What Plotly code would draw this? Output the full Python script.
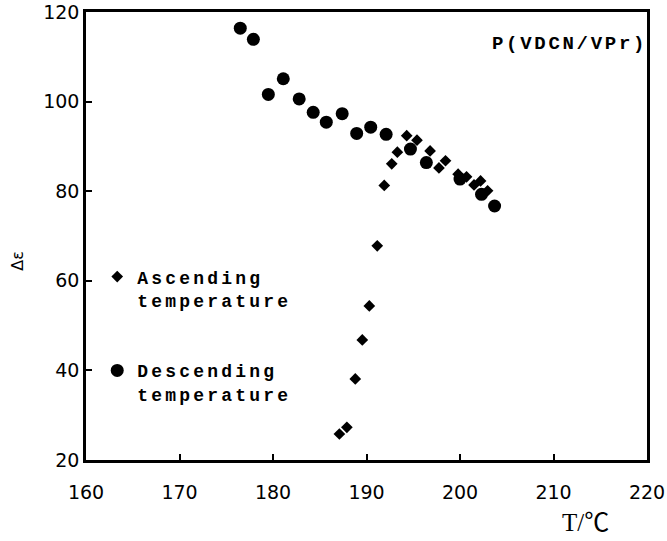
import plotly.graph_objects as go

# Ascending temperature (diamonds)
asc_T = [187.1, 187.9, 188.8, 189.55, 190.3, 191.15, 191.9, 192.7, 193.3, 194.3,
         195.4, 196.8, 197.75, 198.45, 199.8, 200.7, 201.5, 202.2, 202.95]
asc_de = [25.8, 27.3, 38.1, 46.8, 54.4, 67.8, 81.3, 86.1, 88.7, 92.4,
          91.4, 89.0, 85.2, 86.8, 83.8, 83.2, 81.4, 82.3, 80.1]

# Descending temperature (circles)
desc_T = [176.5, 177.9, 179.5, 181.1, 182.8, 184.3, 185.7, 187.4, 188.95, 190.45,
          192.1, 194.7, 196.4, 200.0, 202.3, 203.7]
desc_de = [116.4, 113.9, 101.6, 105.1, 100.6, 97.6, 95.4, 97.3, 92.9, 94.3,
           92.7, 89.4, 86.4, 82.7, 79.3, 76.7]

x_ticks = [160, 170, 180, 190, 200, 210, 220]
y_ticks = [20, 40, 60, 80, 100, 120]

MONO = "Liberation Mono"


def spaced(t, ls=2.5):
    return '<b><span style="letter-spacing:%spx">' % ls + t + "</span></b>"


fig = go.Figure()
fig.add_trace(go.Scatter(
    x=asc_T, y=asc_de, mode="markers",
    name=spaced("Ascending", 3.2) + "<br>" + spaced("temperature", 3.2),
    legendgroup="a",
    marker=dict(symbol="diamond", size=9, color="black"),
))
fig.add_trace(go.Scatter(
    x=desc_T, y=desc_de, mode="markers",
    name=spaced("Descending", 3.2) + "<br>" + spaced("temperature", 3.2),
    legendgroup="d",
    marker=dict(symbol="circle", size=13, color="black"),
))

axis_common = dict(
    showgrid=False, zeroline=False, showline=True, mirror=True,
    linecolor="black", linewidth=2.5, ticks="inside", ticklen=6,
    tickwidth=1.5, tickcolor="black", automargin=False,
    tickfont=dict(family="DejaVu Sans", size=19, color="black"),
)
fig.update_xaxes(range=[160, 220], tickvals=x_ticks, ticklabelstandoff=13, **axis_common)
fig.update_yaxes(range=[20, 120], tickvals=y_ticks, **axis_common)

fig.update_layout(
    width=667, height=541,
    margin=dict(l=86, r=20, t=12, b=81, autoexpand=False),
    plot_bgcolor="white", paper_bgcolor="white",
    showlegend=True,
    legend=dict(
        x=0.02, y=0.45, xanchor="left", yanchor="top",
        font=dict(family=MONO, size=18, color="black"),
        valign="top", tracegroupgap=44, traceorder="grouped",
        bgcolor="rgba(0,0,0,0)",
    ),
    annotations=[
        dict(text=spaced("P(VDCN/VPr)", 2.7), xref="paper", yref="paper",
             x=1.004, y=0.929, xanchor="right", yanchor="middle", showarrow=False,
             font=dict(family=MONO, size=19, color="black")),
        dict(text="Δε", xref="paper", yref="paper", x=-0.122, y=0.444,
             xanchor="center", yanchor="middle", showarrow=False, textangle=-90,
             font=dict(family="DejaVu Sans", size=16, color="black")),
        dict(text="T/℃", xref="paper", yref="paper", x=0.89, y=-0.14,
             xanchor="center", yanchor="middle", showarrow=False,
             font=dict(family="Liberation Serif, Noto Sans CJK SC", size=25, color="black")),
    ],
)

fig.write_html("out.html")
